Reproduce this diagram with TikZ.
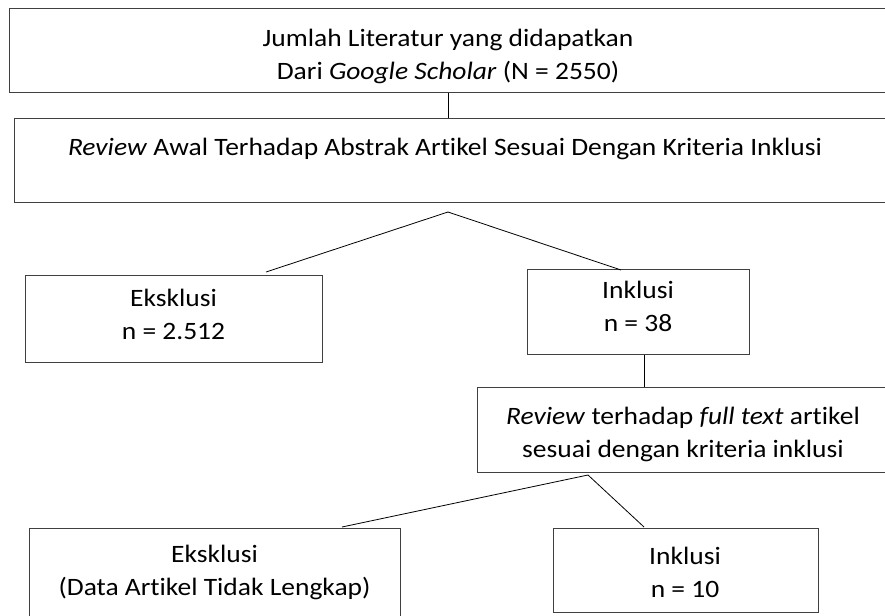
\documentclass[tikz,border=0pt]{standalone}
\usepackage{fontspec}
\setmainfont{Carlito}[Ligatures={NoCommon}, FakeStretch=1.1]

\begin{document}
\begin{tikzpicture}
[
    x=1pt, y=-1pt,
    box/.style={draw=black!75, line width=1.1pt, anchor=north west, inner sep=0pt},
    txt/.style={align=center, inner sep=0pt, font=\fontsize{25}{33}\selectfont},
    link/.style={draw, line width=0.8pt},
]
\useasboundingbox (0,0) rectangle (885,615);
\clip (0,0) rectangle (885,615);

% boxes
\node [box, minimum width=891pt, minimum height=84pt] (jumlah) at (9,8) {};
\node [box, minimum width=886pt, minimum height=84pt] (abstrak) at (14,118) {};
\node [box, minimum width=297pt, minimum height=87pt] (eksklusiA) at (25,275) {};
\node [box, minimum width=222pt, minimum height=85pt] (inklusiA) at (527,269) {};
\node [box, minimum width=423pt, minimum height=85pt] (fulltext) at (477,387) {};
\node [box, minimum width=371pt, minimum height=112pt] (eksklusiB) at (29,528) {};
\node [box, minimum width=265pt, minimum height=84pt] (inklusiB) at (553,528) {};

% texts
\node [txt] (jumlahT) at (448,56)
{Jumlah Literatur yang didapatkan\\Dari \textit{Google Scholar} (N = 2550)};
\node [txt] (abstrakT) at (445,149)
{\textit{Review} Awal Terhadap Abstrak Artikel Sesuai Dengan Kriteria Inklusi};
\node [txt] (eksklusiAT) at (173.5,314) {Eksklusi\\n = 2.512};
\node [txt] (inklusiAT) at (638,306) {Inklusi\\n = 38};
\node [txt] (fulltextT) at (683,434)
{\textit{Review} terhadap \textit{full text} artikel\\sesuai dengan kriteria inklusi};
\node [txt] (eksklusiBT) at (214.5,572) {Eksklusi\\(Data Artikel Tidak Lengkap)};
\node [txt] (inklusiBT) at (685,572) {Inklusi\\n = 10};

% connectors
\coordinate (splitA) at (448,212);
\coordinate (endEA) at (266,272);
\coordinate (endIA) at (621,270);
\coordinate (splitB) at (588,475);
\coordinate (endEB) at (342,527);
\coordinate (endIB) at (644,527);

\draw [link] (jumlahT |- jumlah.south) -- (jumlahT |- abstrak.north);
\draw [link] (endEA) -- (splitA) -- (endIA);
\draw [link] ([xshift=6pt]inklusiA.south) -- ([xshift=6pt]inklusiA.south |- fulltext.north);
\draw [link] (endEB) -- (splitB) -- (endIB);
\end{tikzpicture}
\end{document}
